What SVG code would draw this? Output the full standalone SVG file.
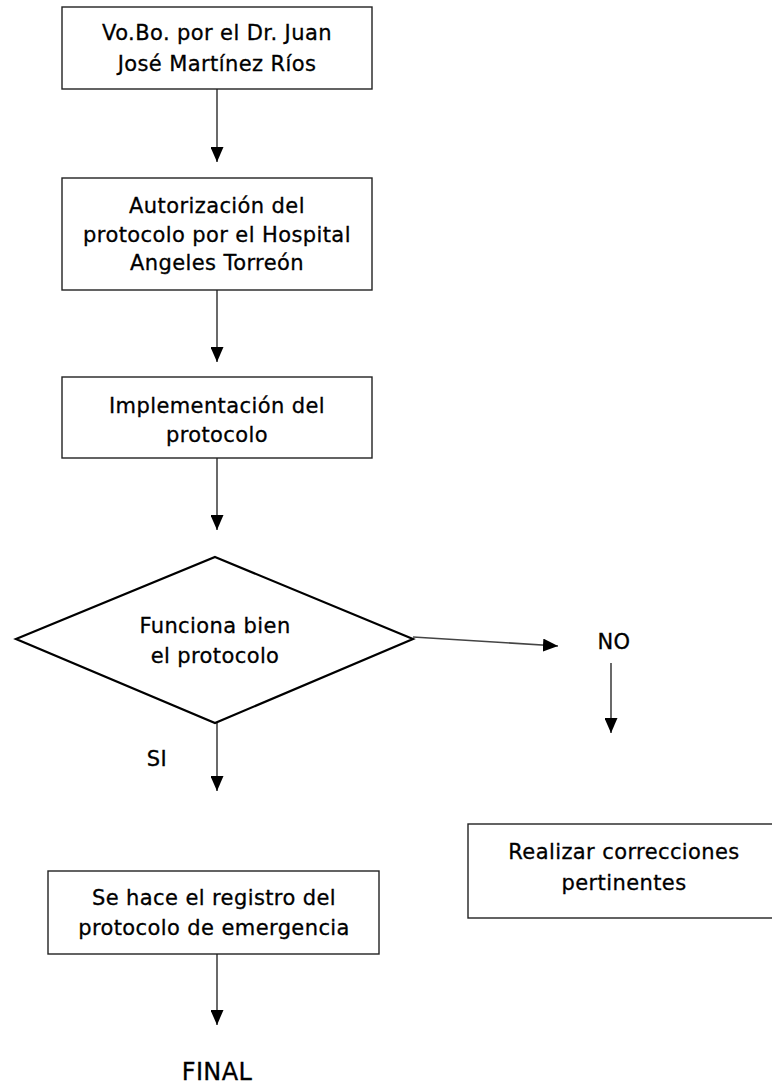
<svg xmlns="http://www.w3.org/2000/svg" width="772" height="1086" viewBox="0 0 772 1086">
  <defs>
    <marker id="arrow" markerUnits="userSpaceOnUse" markerWidth="15" markerHeight="13" refX="15" refY="6.5" orient="auto">
      <path d="M0,0 L15,6.5 L0,13 z" fill="#000"/>
    </marker>
    <style>
      .box { fill: #fff; stroke: #222; stroke-width: 1.4; }
      .dia { fill: #fff; stroke: #000; stroke-width: 2.2; stroke-linejoin: miter; }
      .conn { stroke: #444; stroke-width: 1.6; fill: none; marker-end: url(#arrow); }
      .t { font-family: "DejaVu Sans", "Liberation Sans", sans-serif; font-size: 21px; letter-spacing: 0.4px; fill: #000; stroke: #000; stroke-width: 0.3px; text-anchor: middle; }
      .big { font-size: 24px; }
    </style>
  </defs>
  <rect width="772" height="1086" fill="#fff"/>

  <g id="connectors">
    <line class="conn" x1="217" y1="89" x2="217" y2="162"/>
    <line class="conn" x1="217" y1="290" x2="217" y2="362"/>
    <line class="conn" x1="217" y1="458" x2="217" y2="530"/>
    <line class="conn" x1="413" y1="637" x2="558" y2="646"/>
    <line class="conn" x1="611" y1="663" x2="611" y2="733"/>
    <line class="conn" x1="217" y1="723" x2="217" y2="791"/>
    <line class="conn" x1="217" y1="954" x2="217" y2="1025"/>
  </g>

  <g id="node-vobo">
    <rect class="box" x="62" y="7" width="310" height="82"/>
    <text class="t" x="217" y="40">Vo.Bo. por el Dr. Juan</text>
    <text class="t" x="217" y="71">José Martínez Ríos</text>
  </g>

  <g id="node-autorizacion">
    <rect class="box" x="62" y="178" width="310" height="112"/>
    <text class="t" x="217" y="213">Autorización del</text>
    <text class="t" x="217" y="242">protocolo por el Hospital</text>
    <text class="t" x="217" y="270">Angeles Torreón</text>
  </g>

  <g id="node-implementacion">
    <rect class="box" x="62" y="377" width="310" height="81"/>
    <text class="t" x="217" y="413">Implementación del</text>
    <text class="t" x="217" y="442">protocolo</text>
  </g>

  <g id="node-decision">
    <polygon class="dia" points="215,557 413,639 215,723 16,639"/>
    <text class="t" x="215" y="633">Funciona bien</text>
    <text class="t" x="215" y="663">el protocolo</text>
  </g>

  <g id="label-no">
    <text class="t" x="614" y="649">NO</text>
  </g>

  <g id="label-si">
    <text class="t" x="157" y="766">SI</text>
  </g>

  <g id="node-correcciones">
    <rect class="box" x="468" y="824" width="310" height="94"/>
    <text class="t" x="624" y="859">Realizar correcciones</text>
    <text class="t" x="624" y="890">pertinentes</text>
  </g>

  <g id="node-registro">
    <rect class="box" x="48" y="871" width="331" height="83"/>
    <text class="t" x="214" y="905">Se hace el registro del</text>
    <text class="t" x="214" y="935">protocolo de emergencia</text>
  </g>

  <g id="node-final">
    <text class="t big" x="217" y="1080">FINAL</text>
  </g>
</svg>
